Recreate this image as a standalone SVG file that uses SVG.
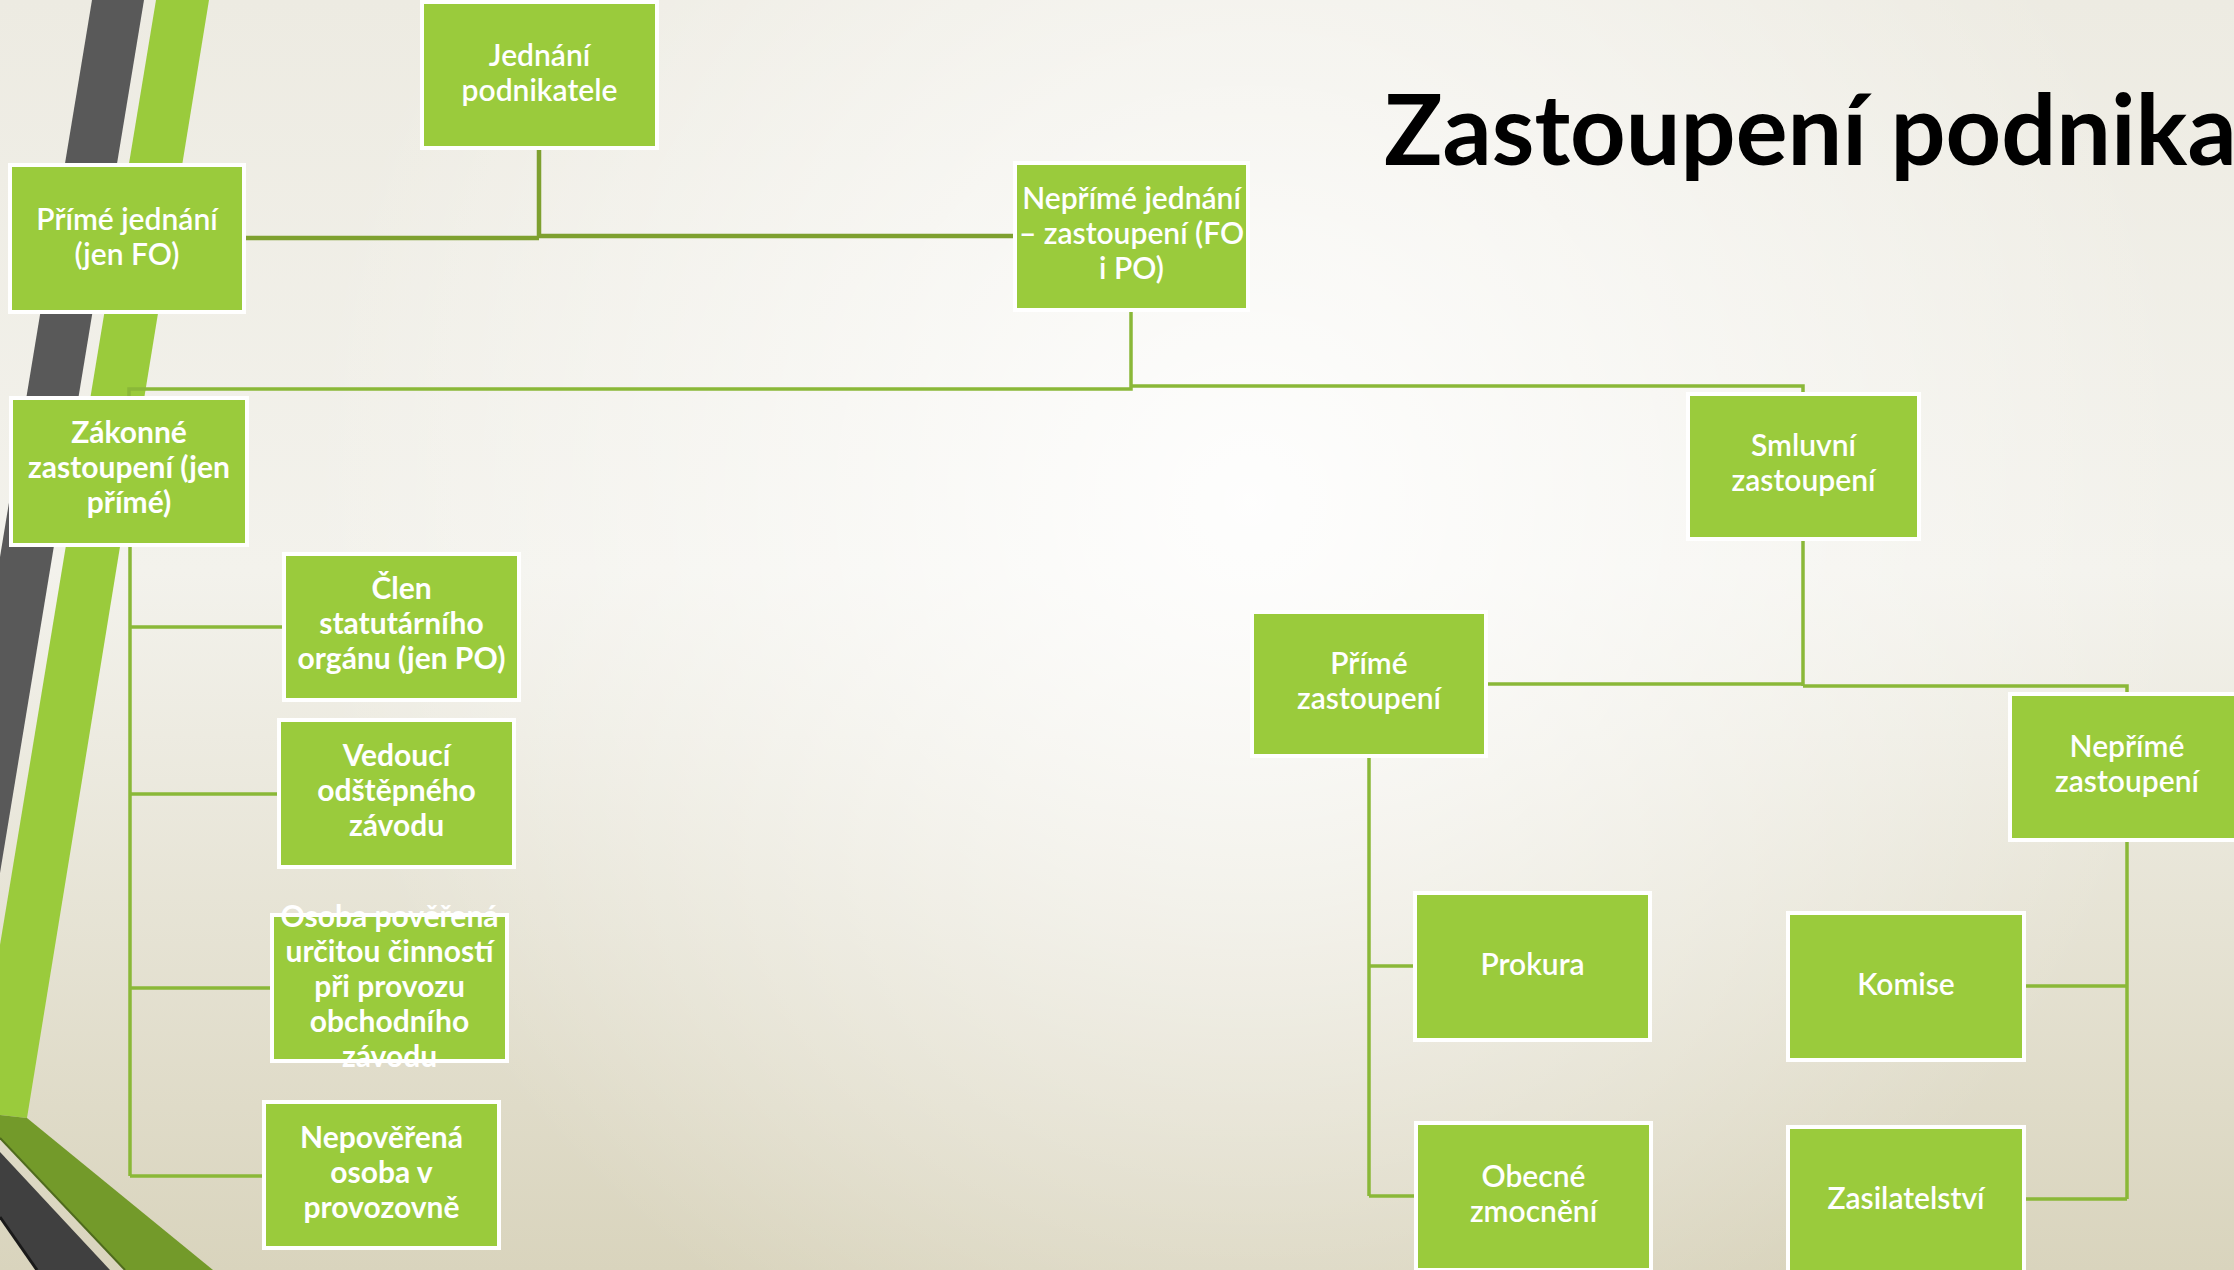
<svg xmlns="http://www.w3.org/2000/svg" width="2234" height="1270" viewBox="0 0 2234 1270">
<defs>
<linearGradient id="bg" x1="0" y1="0" x2="0" y2="1">
<stop offset="0" stop-color="#EDEBE2"/>
<stop offset="0.45" stop-color="#F3F2EC"/>
<stop offset="1" stop-color="#D9D4BD"/>
</linearGradient>
<radialGradient id="hl" cx="1250" cy="500" r="950" gradientUnits="userSpaceOnUse">
<stop offset="0" stop-color="#FFFFFF" stop-opacity="0.9"/>
<stop offset="0.6" stop-color="#FFFFFF" stop-opacity="0.35"/>
<stop offset="1" stop-color="#FFFFFF" stop-opacity="0"/>
</radialGradient>
<style>
.box{fill:#9ACB3C;stroke:#FFFFFF;stroke-width:4}
.t{font-family:Lato,"Open Sans","Liberation Sans",sans-serif;font-size:30px;font-weight:600;fill:#FFFFFF;text-anchor:middle}
.b{font-weight:bold}
.title{font-family:Lato,"Open Sans","Liberation Sans",sans-serif;font-size:97px;font-weight:bold;fill:#000000}
.c{fill:none;stroke:#8AB838;stroke-width:3.5}
.c2{fill:none;stroke:#7EA02F;stroke-width:4.5}
</style>
</defs>
<rect x="0" y="0" width="2234" height="1270" fill="url(#bg)"/>
<rect x="0" y="0" width="2234" height="1270" fill="url(#hl)"/>
<g id="decor">
<polygon points="92,0 144,0 0,873 0,557" fill="#595959"/>
<polygon points="156,0 209,0 27,1118 0,1115 0,945" fill="#9ACB3C"/>
<polygon points="0,1115 27,1118 213,1270 125,1270 0,1138" fill="#739A2A"/>
<line x1="0" y1="1138" x2="125" y2="1270" stroke="#4F6B1D" stroke-width="2"/>
<polygon points="0,1152 110,1270 37,1270 0,1217" fill="#404040"/>
<line x1="0" y1="1217" x2="37" y2="1270" stroke="#1A1A1A" stroke-width="3"/>
</g>
<text class="title" x="1384" y="165">Zastoupení podnika</text>
<g id="connectors">
<path class="c2" d="M539,148 V237 M245,238 H539 M539,236 H1015"/>
<path class="c" d="M1131,310 V389 H129 V398"/>
<path class="c" d="M1131,386 H1803 V394"/>
<path class="c" d="M130,545 V1176 M130,627 H284 M130,794 H279 M130,988 H272 M130,1176 H264"/>
<path class="c" d="M1803,539 V686 M1486,684 H1803 M1803,686 H2127 V694"/>
<path class="c" d="M1369,756 V1196 M1369,966 H1415 M1369,1196 H1416"/>
<path class="c" d="M2127,840 V1199 M2024,986 H2127 M2024,1199 H2127"/>
</g>
<g id="n1"><rect class="box" x="422" y="2" width="235" height="146"/><text class="t" x="539.5" y="66">Jednání</text><text class="t" x="539.5" y="101">podnikatele</text></g>
<g id="n2"><rect class="box" x="10" y="165" width="234" height="147"/><text class="t" x="127" y="230">Přímé jednání</text><text class="t" x="127" y="265">(jen FO)</text></g>
<g id="n3"><rect class="box" x="1015" y="163" width="233" height="147"/><text class="t" x="1131.5" y="209">Nepřímé jednání</text><text class="t" x="1131.5" y="244">– zastoupení (FO</text><text class="t" x="1131.5" y="279">i PO)</text></g>
<g id="n4"><rect class="box" x="11" y="398" width="236" height="147"/><text class="t b" x="129" y="443">Zákonné</text><text class="t b" x="129" y="478">zastoupení (jen</text><text class="t b" x="129" y="513">přímé)</text></g>
<g id="n5"><rect class="box" x="284" y="554" width="235" height="146"/><text class="t b" x="401.5" y="599">Člen</text><text class="t b" x="401.5" y="634">statutárního</text><text class="t b" x="401.5" y="669">orgánu (jen PO)</text></g>
<g id="n6"><rect class="box" x="279" y="720" width="235" height="147"/><text class="t b" x="396.5" y="766">Vedoucí</text><text class="t b" x="396.5" y="801">odštěpného</text><text class="t b" x="396.5" y="836">závodu</text></g>
<g id="n7"><rect class="box" x="272" y="915" width="235" height="146"/><text class="t b" x="389.5" y="927">Osoba pověřená</text><text class="t b" x="389.5" y="962">určitou činností</text><text class="t b" x="389.5" y="997">při provozu</text><text class="t b" x="389.5" y="1032">obchodního</text><text class="t b" x="389.5" y="1067">závodu</text></g>
<g id="n8"><rect class="box" x="264" y="1102" width="235" height="146"/><text class="t b" x="381.5" y="1148">Nepověřená</text><text class="t b" x="381.5" y="1183">osoba v</text><text class="t b" x="381.5" y="1218">provozovně</text></g>
<g id="n9"><rect class="box" x="1688" y="394" width="231" height="145"/><text class="t" x="1803.5" y="456">Smluvní</text><text class="t" x="1803.5" y="491">zastoupení</text></g>
<g id="n10"><rect class="box" x="1252" y="612" width="234" height="144"/><text class="t" x="1369" y="674">Přímé</text><text class="t" x="1369" y="709">zastoupení</text></g>
<g id="n11"><rect class="box" x="2010" y="694" width="234" height="146"/><text class="t" x="2127" y="757">Nepřímé</text><text class="t" x="2127" y="792">zastoupení</text></g>
<g id="n12"><rect class="box" x="1415" y="893" width="235" height="147"/><text class="t" x="1532.5" y="975">Prokura</text></g>
<g id="n13"><rect class="box" x="1788" y="913" width="236" height="147"/><text class="t" x="1906" y="995">Komise</text></g>
<g id="n14"><rect class="box" x="1416" y="1123" width="235" height="147"/><text class="t" x="1533.5" y="1187">Obecné</text><text class="t" x="1533.5" y="1222">zmocnění</text></g>
<g id="n15"><rect class="box" x="1788" y="1127" width="236" height="147"/><text class="t" x="1906" y="1209">Zasilatelství</text></g>
</svg>
